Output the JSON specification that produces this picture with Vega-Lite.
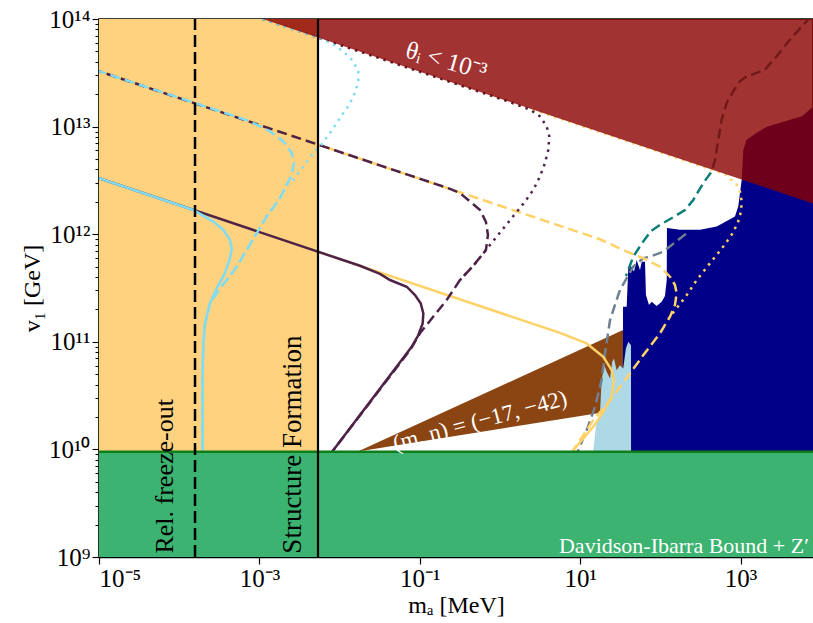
{
  "$schema": "https://vega.github.io/schema/vega-lite/v6.json",
  "width": 714,
  "height": 538,
  "autosize": {"type": "none"},
  "padding": {"left": 99, "top": 19, "right": 0, "bottom": 66},
  "background": "white",
  "config": {
    "view": {"stroke": "black", "strokeWidth": 1.5},
    "font": "Liberation Serif"
  },
  "datasets": {
    "lines": [
      {"s":"cs","o":1,"m":1e-5,"v":3.31e12},{"s":"cs","o":2,"m":1.5e-4,"v":1.68e12},{"s":"cs","o":3,"m":2.66e-4,"v":1.31e12},{"s":"cs","o":4,"m":3.55e-4,"v":1.10e12},{"s":"cs","o":5,"m":4.30e-4,"v":8.85e11},{"s":"cs","o":6,"m":4.52e-4,"v":7.41e11},{"s":"cs","o":7,"m":4.30e-4,"v":5.98e11},{"s":"cs","o":8,"m":3.72e-4,"v":4.34e11},{"s":"cs","o":9,"m":2.94e-4,"v":3.14e11},{"s":"cs","o":10,"m":2.42e-4,"v":2.28e11},{"s":"cs","o":11,"m":2.10e-4,"v":1.48e11},{"s":"cs","o":12,"m":2.00e-4,"v":9.66e10},{"s":"cs","o":13,"m":1.96e-4,"v":5.08e10},{"s":"cs","o":14,"m":1.96e-4,"v":2.0e10},{"s":"cs","o":15,"m":1.96e-4,"v":7.94e9},
      {"s":"ps","o":1,"m":1e-5,"v":3.31e12},{"s":"ps","o":2,"m":1.795e-2,"v":5.09e11},{"s":"ps","o":3,"m":3.19e-2,"v":4.27e11},{"s":"ps","o":4,"m":4.25e-2,"v":3.75e11},{"s":"ps","o":5,"m":6.87e-2,"v":3.25e11},{"s":"ps","o":6,"m":8.71e-2,"v":2.72e11},{"s":"ps","o":7,"m":0.1026,"v":2.28e11},{"s":"ps","o":8,"m":0.1107,"v":1.84e11},{"s":"ps","o":9,"m":0.1086,"v":1.48e11},{"s":"ps","o":10,"m":0.0957,"v":1.15e11},{"s":"ps","o":11,"m":0.0793,"v":8.98e10},{"s":"ps","o":12,"m":8.34e-3,"v":9.82e9},{"s":"ps","o":13,"m":6.62e-3,"v":7.8e9},
      {"s":"os","o":1,"m":1e-5,"v":3.31e12},{"s":"os","o":2,"m":5.6,"v":1.21e11},{"s":"os","o":3,"m":12.05,"v":9.66e10},{"s":"os","o":4,"m":19.41,"v":7.24e10},{"s":"os","o":5,"m":24.7,"v":5.45e10},{"s":"os","o":6,"m":26.4,"v":4.40e10},{"s":"os","o":7,"m":24.7,"v":3.08e10},{"s":"os","o":8,"m":19.41,"v":2.23e10},{"s":"os","o":9,"m":14.56,"v":1.62e10},{"s":"os","o":10,"m":8.2,"v":9.82e9},{"s":"os","o":11,"m":6.52,"v":7.8e9},
      {"s":"cd","o":1,"m":1e-5,"v":3.27e13},{"s":"cd","o":2,"m":7.64e-4,"v":1.12e13},{"s":"cd","o":3,"m":1.355e-3,"v":9.02e12},{"s":"cd","o":4,"m":1.99e-3,"v":7.28e12},{"s":"cd","o":5,"m":2.53e-3,"v":5.68e12},{"s":"cd","o":6,"m":2.70e-3,"v":4.58e12},{"s":"cd","o":7,"m":2.53e-3,"v":3.56e12},{"s":"cd","o":8,"m":2.19e-3,"v":2.88e12},{"s":"cd","o":9,"m":1.81e-3,"v":2.16e12},{"s":"cd","o":10,"m":1.23e-3,"v":1.46e12},{"s":"cd","o":11,"m":9.25e-4,"v":1.02e12},{"s":"cd","o":12,"m":6.95e-4,"v":7.14e11},{"s":"cd","o":13,"m":5.21e-4,"v":4.99e11},{"s":"cd","o":14,"m":3.91e-4,"v":3.75e11},{"s":"cd","o":15,"m":3.23e-4,"v":3.14e11},{"s":"cd","o":16,"m":2.42e-4,"v":2.28e11},{"s":"cd","o":17,"m":2.10e-4,"v":1.48e11},{"s":"cd","o":18,"m":2.00e-4,"v":9.66e10},{"s":"cd","o":19,"m":1.96e-4,"v":5.08e10},{"s":"cd","o":20,"m":1.96e-4,"v":7.94e9},
      {"s":"pd","o":1,"m":1e-5,"v":3.27e13},{"s":"pd","o":2,"m":0.238,"v":2.64e12},{"s":"pd","o":3,"m":0.317,"v":2.41e12},{"s":"pd","o":4,"m":0.564,"v":1.68e12},{"s":"pd","o":5,"m":0.668,"v":1.30e12},{"s":"pd","o":6,"m":0.708,"v":9.84e11},{"s":"pd","o":7,"m":0.668,"v":7.14e11},{"s":"pd","o":8,"m":0.474,"v":5.18e11},{"s":"pd","o":9,"m":0.317,"v":3.75e11},{"s":"pd","o":10,"m":0.216,"v":2.44e11},{"s":"pd","o":11,"m":0.147,"v":1.71e11},{"s":"pd","o":12,"m":0.1005,"v":1.20e11},{"s":"pd","o":13,"m":0.0755,"v":8.37e10},{"s":"pd","o":14,"m":8.34e-3,"v":9.82e9},{"s":"pd","o":15,"m":6.62e-3,"v":7.8e9},
      {"s":"od","o":1,"m":1e-5,"v":3.27e13},{"s":"od","o":2,"m":17.66,"v":8.97e11},{"s":"od","o":3,"m":38.0,"v":6.89e11},{"s":"od","o":4,"m":61.2,"v":5.98e11},{"s":"od","o":5,"m":98.9,"v":4.99e11},{"s":"od","o":6,"m":131.8,"v":4.03e11},{"s":"od","o":7,"m":152,"v":3.37e11},{"s":"od","o":8,"m":159.6,"v":2.82e11},{"s":"od","o":9,"m":152,"v":2.20e11},{"s":"od","o":10,"m":131.8,"v":1.71e11},{"s":"od","o":11,"m":98.9,"v":1.20e11},{"s":"od","o":12,"m":61.2,"v":7.52e10},{"s":"od","o":13,"m":41.8,"v":5.08e10},{"s":"od","o":14,"m":23.55,"v":2.86e10},{"s":"od","o":15,"m":14.56,"v":1.87e10},{"s":"od","o":16,"m":8.2,"v":9.82e9},{"s":"od","o":17,"m":6.52,"v":7.8e9},
      {"s":"ct","o":1,"m":1e-5,"v":3.24e14},{"s":"ct","o":2,"m":4.28e-3,"v":7.11e13},{"s":"ct","o":3,"m":5.70e-3,"v":6.68e13},{"s":"ct","o":4,"m":8.34e-3,"v":5.79e13},{"s":"ct","o":5,"m":1.11e-2,"v":5.01e13},{"s":"ct","o":6,"m":1.48e-2,"v":4.05e13},{"s":"ct","o":7,"m":1.71e-2,"v":3.27e13},{"s":"ct","o":8,"m":1.71e-2,"v":2.64e13},{"s":"ct","o":9,"m":1.56e-2,"v":2.06e13},{"s":"ct","o":10,"m":1.28e-2,"v":1.54e13},{"s":"ct","o":11,"m":1.01e-2,"v":1.20e13},{"s":"ct","o":12,"m":7.59e-3,"v":8.71e12},{"s":"ct","o":13,"m":5.70e-3,"v":6.55e12},{"s":"ct","o":14,"m":4.70e-3,"v":5.68e12},{"s":"ct","o":15,"m":3.52e-3,"v":4.26e12},{"s":"ct","o":16,"m":2.65e-3,"v":3.21e12},{"s":"ct","o":17,"m":2.19e-3,"v":2.88e12},{"s":"ct","o":18,"m":1.81e-3,"v":2.16e12},{"s":"ct","o":19,"m":1.23e-3,"v":1.46e12},{"s":"ct","o":20,"m":9.25e-4,"v":1.02e12},{"s":"ct","o":21,"m":6.95e-4,"v":7.14e11},{"s":"ct","o":22,"m":5.21e-4,"v":4.99e11},{"s":"ct","o":23,"m":3.91e-4,"v":3.75e11},{"s":"ct","o":24,"m":3.23e-4,"v":3.14e11},
      {"s":"pt","o":1,"m":1e-5,"v":3.24e14},{"s":"pt","o":2,"m":1.153,"v":1.756e13},{"s":"pt","o":3,"m":2.37,"v":1.44e13},{"s":"pt","o":4,"m":3.155,"v":1.245e13},{"s":"pt","o":5,"m":3.82,"v":1.005e13},{"s":"pt","o":6,"m":4.12,"v":8.11e12},{"s":"pt","o":7,"m":4.0,"v":6.10e12},{"s":"pt","o":8,"m":3.64,"v":4.58e12},{"s":"pt","o":9,"m":3.155,"v":3.44e12},{"s":"pt","o":10,"m":2.6,"v":2.58e12},{"s":"pt","o":11,"m":2.05,"v":2.01e12},{"s":"pt","o":12,"m":1.69,"v":1.68e12},{"s":"pt","o":13,"m":0.75,"v":7.94e11},{"s":"pt","o":14,"m":0.474,"v":5.18e11},{"s":"pt","o":15,"m":0.317,"v":3.75e11},
      {"s":"ot","o":1,"m":1e-5,"v":3.24e14},{"s":"ot","o":2,"m":640,"v":3.62e12},{"s":"ot","o":3,"m":893,"v":2.88e12},{"s":"ot","o":4,"m":984,"v":2.49e12},{"s":"ot","o":5,"m":1033,"v":2.01e12},{"s":"ot","o":6,"m":1012,"v":1.62e12},{"s":"ot","o":7,"m":929,"v":1.30e12},{"s":"ot","o":8,"m":804,"v":1.03e12},{"s":"ot","o":9,"m":608,"v":7.67e11},{"s":"ot","o":10,"m":415,"v":5.37e11},{"s":"ot","o":11,"m":284,"v":3.75e11},{"s":"ot","o":12,"m":213,"v":2.72e11},{"s":"ot","o":13,"m":159.6,"v":2.05e11},{"s":"ot","o":14,"m":131.8,"v":1.71e11},
      {"s":"td","o":1,"m":9770,"v":1.36e14},{"s":"td","o":2,"m":6980,"v":9.89e13},{"s":"td","o":3,"m":4130,"v":6.44e13},{"s":"td","o":4,"m":2818,"v":4.51e13},{"s":"td","o":5,"m":2014,"v":3.39e13},{"s":"td","o":6,"m":1588,"v":3.16e13},{"s":"td","o":7,"m":1191,"v":2.93e13},{"s":"td","o":8,"m":984,"v":2.64e13},{"s":"td","o":9,"m":811,"v":2.13e13},{"s":"td","o":10,"m":671,"v":1.66e13},{"s":"td","o":11,"m":581,"v":1.16e13},{"s":"td","o":12,"m":527,"v":7.55e12},{"s":"td","o":13,"m":480,"v":4.92e12},{"s":"td","o":14,"m":437,"v":3.83e12},{"s":"td","o":15,"m":343,"v":2.99e12},{"s":"td","o":16,"m":257,"v":2.08e12},{"s":"td","o":17,"m":203,"v":1.68e12},{"s":"td","o":18,"m":145,"v":1.44e12},{"s":"td","o":19,"m":98.9,"v":1.22e12},{"s":"td","o":20,"m":76.4,"v":1.07e12},{"s":"td","o":21,"m":59.0,"v":8.24e11},{"s":"td","o":22,"m":45.9,"v":6.18e11},{"s":"td","o":23,"m":39.8,"v":4.66e11},{"s":"td","o":24,"m":37.2,"v":4.09e11},
      {"s":"gd","o":1,"m":208,"v":1.007e12},{"s":"gd","o":2,"m":108.6,"v":6.89e11},{"s":"gd","o":3,"m":74.1,"v":6.18e11},{"s":"gd","o":4,"m":61.2,"v":5.98e11},{"s":"gd","o":5,"m":45.9,"v":4.99e11},{"s":"gd","o":6,"m":31.3,"v":3.03e11},{"s":"gd","o":7,"m":23.55,"v":1.59e11},{"s":"gd","o":8,"m":20.4,"v":7.8e10},{"s":"gd","o":9,"m":18.5,"v":4.4e10},{"s":"gd","o":10,"m":15.3,"v":2.48e10},{"s":"gd","o":11,"m":12.05,"v":1.51e10},{"s":"gd","o":12,"m":9.46,"v":9.82e9},{"s":"gd","o":13,"m":8.61,"v":8.28e9}
    ],
    "navy": [
      {"m":34.1,"v":9e9,"v2":9e9},{"m":34.2,"v":2.12e11,"v2":9e9},{"m":38.0,"v":2.12e11,"v2":9e9},{"m":39.8,"v":4.82e11,"v2":9e9},{"m":43.0,"v":5.07e11,"v2":9e9},{"m":46.9,"v":4.49e11,"v2":9e9},{"m":50.6,"v":5.77e11,"v2":9e9},{"m":55.7,"v":4.66e11,"v2":9e9},{"m":58.5,"v":5.56e11,"v2":9e9},{"m":64.3,"v":5.56e11,"v2":9e9},{"m":66.1,"v":2.72e11,"v2":9e9},{"m":72.1,"v":2.20e11,"v2":9e9},{"m":77.9,"v":2.36e11,"v2":9e9},{"m":90.0,"v":2.15e11,"v2":9e9},{"m":103.8,"v":2.36e11,"v2":9e9},{"m":114,"v":2.67e11,"v2":9e9},{"m":120,"v":3.75e11,"v2":9e9},{"m":120.8,"v":1.14e12,"v2":9e9},{"m":175.4,"v":1.10e12,"v2":9e9},{"m":312,"v":1.10e12,"v2":9e9},{"m":504,"v":1.18e12,"v2":9e9},{"m":851,"v":1.46e12,"v2":9e9},{"m":935,"v":1.81e12,"v2":9e9},{"m":1033,"v":3.21e12,"v2":9e9},{"m":1082,"v":6.10e12,"v2":9e9},{"m":1191,"v":7.55e12,"v2":9e9},{"m":1588,"v":8.77e12,"v2":9e9},{"m":2133,"v":9.98e12,"v2":9e9},{"m":4130,"v":1.16e13,"v2":9e9},{"m":5834,"v":1.245e13,"v2":9e9},{"m":8000,"v":1.53e13,"v2":9e9}
    ],
    "lightblue": [
      {"m":14.4,"v":9e9,"v2":9e9},{"m":15.74,"v":1.67e10,"v2":9e9},{"m":17.66,"v":2.15e10,"v2":9e9},{"m":18.5,"v":4.4e10,"v2":9e9},{"m":20.0,"v":6.07e10,"v2":9e9},{"m":21.4,"v":5.26e10,"v2":9e9},{"m":23.55,"v":4.56e10,"v2":9e9},{"m":25.1,"v":6.52e10,"v2":9e9},{"m":26.4,"v":7.0e10,"v2":9e9},{"m":28.5,"v":5.45e10,"v2":9e9},{"m":31.3,"v":6.07e10,"v2":9e9},{"m":34.4,"v":5.65e10,"v2":9e9},{"m":37.2,"v":8.69e10,"v2":9e9},{"m":39.8,"v":1.0e11,"v2":9e9},{"m":43.0,"v":9.31e10,"v2":9e9},{"m":43.1,"v":9e9,"v2":9e9}
    ]
  },
  "encoding": {
    "x": {
      "field": "m", "type": "quantitative",
      "scale": {"type": "log", "domain": [1e-5, 8000], "nice": false, "clamp": false},
      "axis": {
        "values": [1e-5, 1e-3, 0.1, 10, 1000],
        "labelExpr": "datum.value < 1e-4 ? '10⁻⁵' : datum.value < 1e-2 ? '10⁻³' : datum.value < 1 ? '10⁻¹' : datum.value < 100 ? '10¹' : '10³'",
        "grid": false, "tickColor": "black", "tickSize": 7, "tickWidth": 1.2,
        "domainColor": "black", "domainWidth": 1.5,
        "labelFont": "Liberation Serif", "labelFontSize": 25, "labelColor": "black", "labelPadding": 2,
        "title": "mₐ [MeV]", "titleFont": "Liberation Serif", "titleFontSize": 24, "titleFontWeight": "normal", "titleColor": "black", "titlePadding": 2
      }
    },
    "y": {
      "field": "v", "type": "quantitative",
      "scale": {"type": "log", "domain": [1e9, 1e14], "nice": false},
      "axis": {
        "values": [1e9,2e9,3e9,4e9,5e9,6e9,7e9,8e9,9e9,1e10,2e10,3e10,4e10,5e10,6e10,7e10,8e10,9e10,1e11,2e11,3e11,4e11,5e11,6e11,7e11,8e11,9e11,1e12,2e12,3e12,4e12,5e12,6e12,7e12,8e12,9e12,1e13,2e13,3e13,4e13,5e13,6e13,7e13,8e13,9e13,1e14],
        "labelExpr": "datum.value == 1e9 ? '10⁹' : datum.value == 1e10 ? '10¹⁰' : datum.value == 1e11 ? '10¹¹' : datum.value == 1e12 ? '10¹²' : datum.value == 1e13 ? '10¹³' : datum.value == 1e14 ? '10¹⁴' : ''",
        "labelOverlap": false,
        "tickSize": {"condition": {"test": "datum.value == 1e9 || datum.value == 1e10 || datum.value == 1e11 || datum.value == 1e12 || datum.value == 1e13 || datum.value == 1e14", "value": 7}, "value": 4},
        "grid": false, "tickColor": "black", "tickWidth": 1.1,
        "domainColor": "black", "domainWidth": 1.5,
        "labelFont": "Liberation Serif", "labelFontSize": 25, "labelColor": "black", "labelPadding": 2,
        "title": "v₁ [GeV]", "titleFont": "Liberation Serif", "titleFontSize": 24, "titleFontWeight": "normal", "titleColor": "black", "titlePadding": 4
      }
    }
  },
  "layer": [
    {"data": {"values": [{"m":1e-5,"v":1e14,"v2":9e9},{"m":5.38e-3,"v":1e14,"v2":9e9}]},
     "mark": {"type": "area", "color": "#ffd280", "clip": true},
     "encoding": {"y2": {"field": "v2"}}},
    {"data": {"values": [{"m":1.69e-2,"v":9.55e9,"v2":9.55e9},{"m":34.2,"v":1.29e11,"v2":2.36e10}]},
     "mark": {"type": "area", "color": "#8b4513", "clip": true},
     "encoding": {"y2": {"field": "v2"}}},
    {"data": {"name": "navy"},
     "mark": {"type": "area", "color": "#000088", "clip": true},
     "encoding": {"y2": {"field": "v2"}}},
    {"data": {"name": "lightblue"},
     "mark": {"type": "area", "color": "#add8e6", "clip": true},
     "encoding": {"y2": {"field": "v2"}}},
    {"data": {"name": "lines"}, "transform": [{"filter": "datum.s == 'gd'"}],
     "mark": {"type": "line", "color": "#708090", "strokeWidth": 2.5, "strokeDash": [10, 5], "clip": true},
     "encoding": {"order": {"field": "o"}}},
    {"data": {"name": "lines"}, "transform": [{"filter": "datum.s == 'td'"}],
     "mark": {"type": "line", "color": "#0e7f78", "strokeWidth": 2.5, "strokeDash": [10, 5], "clip": true},
     "encoding": {"order": {"field": "o"}}},
    {"data": {"name": "lines"}, "transform": [{"filter": "datum.s == 'os'"}],
     "mark": {"type": "line", "color": "#ffd166", "strokeWidth": 2.5, "clip": true},
     "encoding": {"order": {"field": "o"}}},
    {"data": {"name": "lines"}, "transform": [{"filter": "datum.s == 'od'"}],
     "mark": {"type": "line", "color": "#ffd166", "strokeWidth": 2.5, "strokeDash": [10, 5], "clip": true},
     "encoding": {"order": {"field": "o"}}},
    {"data": {"name": "lines"}, "transform": [{"filter": "datum.s == 'ot'"}],
     "mark": {"type": "line", "color": "#ffd166", "strokeWidth": 2.5, "strokeDash": [2.5, 5], "clip": true},
     "encoding": {"order": {"field": "o"}}},
    {"data": {"name": "lines"}, "transform": [{"filter": "datum.s == 'ps'"}],
     "mark": {"type": "line", "color": "#4f2248", "strokeWidth": 2.5, "clip": true},
     "encoding": {"order": {"field": "o"}}},
    {"data": {"name": "lines"}, "transform": [{"filter": "datum.s == 'pd'"}],
     "mark": {"type": "line", "color": "#4f2248", "strokeWidth": 2.5, "strokeDash": [10, 5], "strokeDashOffset": 7, "clip": true},
     "encoding": {"order": {"field": "o"}}},
    {"data": {"name": "lines"}, "transform": [{"filter": "datum.s == 'pt'"}],
     "mark": {"type": "line", "color": "#4f2248", "strokeWidth": 2.5, "strokeDash": [2.5, 5], "clip": true},
     "encoding": {"order": {"field": "o"}}},
    {"data": {"name": "lines"}, "transform": [{"filter": "datum.s == 'cs'"}],
     "mark": {"type": "line", "color": "#7fdcf2", "strokeWidth": 2.5, "clip": true},
     "encoding": {"order": {"field": "o"}}},
    {"data": {"name": "lines"}, "transform": [{"filter": "datum.s == 'cd'"}],
     "mark": {"type": "line", "color": "#7fdcf2", "strokeWidth": 2.5, "strokeDash": [10, 5], "strokeDashOffset": 3, "clip": true},
     "encoding": {"order": {"field": "o"}}},
    {"data": {"name": "lines"}, "transform": [{"filter": "datum.s == 'ct'"}],
     "mark": {"type": "line", "color": "#7fdcf2", "strokeWidth": 2.5, "strokeDash": [2.5, 5], "clip": true},
     "encoding": {"order": {"field": "o"}}},
    {"data": {"values": [{"m":1.104e-3,"v":1e14,"v2":1e14},{"m":8000,"v":1e14,"v2":1.93e12}]},
     "mark": {"type": "area", "color": "#8b0000", "opacity": 0.8, "clip": true},
     "encoding": {"y2": {"field": "v2"}}},
    {"data": {"values": [{"m":1e-5,"v":9.5e9,"v2":1e9},{"m":8000,"v":9.5e9,"v2":1e9}]},
     "mark": {"type": "area", "color": "#3cb371", "clip": true},
     "encoding": {"y2": {"field": "v2"}}},
    {"data": {"values": [{"m":1e-5,"v":9.5e9},{"m":8000,"v":9.5e9}]},
     "mark": {"type": "line", "color": "#0f7d1a", "strokeWidth": 2.5, "clip": true},
     "encoding": {}},
    {"data": {"values": [{"m":1.575e-4,"v":1e9,"v2":1e14}]},
     "mark": {"type": "rule", "color": "black", "strokeWidth": 2.5, "strokeDash": [12, 5]},
     "encoding": {"y2": {"field": "v2"}}},
    {"data": {"values": [{"m":5.38e-3,"v":1e9,"v2":1e14}]},
     "mark": {"type": "rule", "color": "black", "strokeWidth": 2.2},
     "encoding": {"y2": {"field": "v2"}}},
    {"data": {"values": [{"m":0.215,"v":4.1e13,"t":"θᵢ  <  10⁻³"}]},
     "mark": {"type": "text", "color": "white", "fontSize": 25, "angle": 16, "align": "center", "baseline": "middle", "font": "Liberation Serif"},
     "encoding": {"text": {"field": "t"}}},
    {"data": {"values": [{"m":0.564,"v":1.84e10,"t":"(m, n) = (−17, −42)"}]},
     "mark": {"type": "text", "color": "white", "fontSize": 23, "angle": -15, "align": "center", "baseline": "middle", "font": "Liberation Serif"},
     "encoding": {"text": {"field": "t"}}},
    {"data": {"values": [{"m":6.65e-5,"v":5.62e9,"t":"Rel. freeze-out"}]},
     "mark": {"type": "text", "color": "black", "fontSize": 26, "angle": 270, "align": "center", "baseline": "middle", "font": "Liberation Serif"},
     "encoding": {"text": {"field": "t"}}},
    {"data": {"values": [{"m":2.62e-3,"v":1.11e10,"t":"Structure Formation"}]},
     "mark": {"type": "text", "color": "black", "fontSize": 27, "angle": 270, "align": "center", "baseline": "middle", "font": "Liberation Serif"},
     "encoding": {"text": {"field": "t"}}},
    {"data": {"values": [{"m":7129,"v":1.10e9,"t":"Davidson-Ibarra Bound + Z′"}]},
     "mark": {"type": "text", "color": "white", "fontSize": 22, "align": "right", "baseline": "alphabetic", "font": "Liberation Serif"},
     "encoding": {"text": {"field": "t"}}}
  ]
}
